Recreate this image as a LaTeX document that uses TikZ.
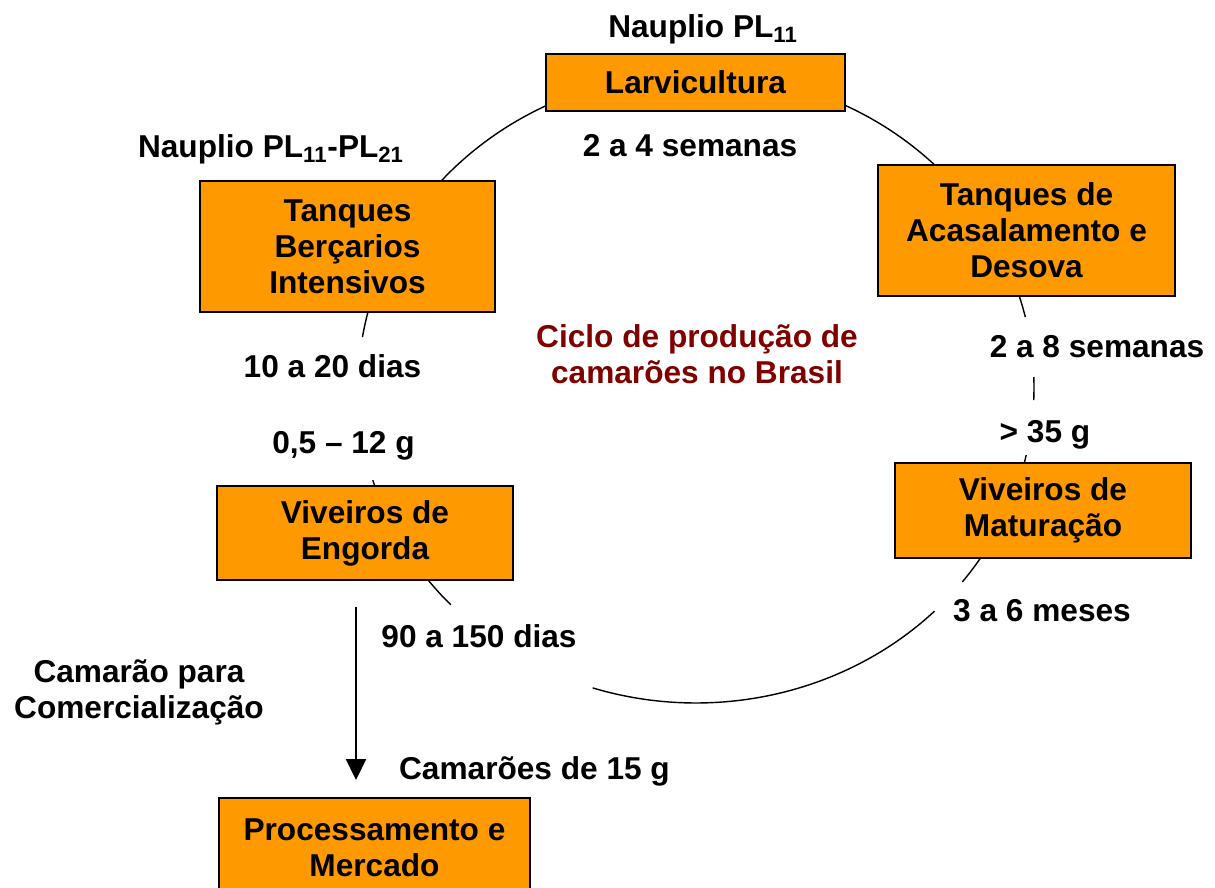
\documentclass[tikz,border=0pt]{standalone}
\usepackage{fontspec}
\setmainfont{Liberation Sans}
\usetikzlibrary{arrows.meta}
\definecolor{caixa}{RGB}{255,153,0}
\definecolor{titulo}{RGB}{128,0,0}

\begin{document}
\begin{tikzpicture}[x=0.02cm,y=-0.02cm,
		etapa/.style={draw=black,line width=1.1pt,fill=caixa,inner sep=0pt,align=center,font=\fontsize{18}{20.4}\selectfont\bfseries},
		rotulo/.style={inner sep=0pt,align=center,font=\fontsize{18}{20.4}\selectfont\bfseries}]
		\clip (0,0) rectangle (1215,888);
		% ciclo (partes visiveis da elipse)
		\foreach \a/\b in {-2/2.2, 12.3/38, 45.1/107.8, 136.5/163, 189.3/347}
			\draw[line width=0.8pt] (696,388) ++(\a:338 and 315) arc[start angle=\a, end angle=\b, x radius=338, y radius=315];
		% etapas
		\node[etapa,minimum width=5.98cm,minimum height=1.14cm] (larv) at (695.5,82.5) {Larvicultura};
		\node[etapa,minimum width=5.94cm,minimum height=2.62cm] (acas) at (1026.5,230.5) {Tanques de\\Acasalamento e\\Desova};
		\node[etapa,minimum width=5.90cm,minimum height=2.62cm] (berc) at (347.5,246.5) {Tanques\\Berçarios\\Intensivos};
		\node[etapa,minimum width=5.92cm,minimum height=1.90cm] (matu) at (1043,510.5) {Viveiros de\\Maturação};
		\node[etapa,minimum width=5.92cm,minimum height=1.88cm] (engo) at (365,533) {Viveiros de\\Engorda};
		\node[etapa,minimum width=6.22cm,minimum height=2.00cm] (proc) at (374.5,848) {Processamento e\\Mercado};
		% rotulos
		\node[rotulo,anchor=base] (naup) at (703,38) {Nauplio PL\textsubscript{11}};
		\node[rotulo,anchor=base] (sem24) at (690,157) {2 a 4 semanas};
		\node[rotulo,anchor=base] (naupb) at (271,158) {Nauplio PL\textsubscript{11}-PL\textsubscript{21}};
		\node[rotulo,anchor=base] (sem28) at (1097,358) {2 a 8 semanas};
		\node[rotulo,anchor=base] (peso35) at (1045,443) {> 35 g};
		\node[rotulo,anchor=base] (dias1020) at (332.5,378) {10 a 20 dias};
		\node[rotulo,anchor=base] (peso05) at (343.5,454) {0,5 – 12 g};
		\node[rotulo,anchor=base] (meses36) at (1042,622) {3 a 6 meses};
		\node[rotulo,anchor=base] (dias90) at (479,648) {90 a 150 dias};
		\node[rotulo,anchor=base] (cam15) at (534.5,780) {Camarões de 15 g};
		\node[rotulo] (comerc) at (139,692) {Camarão para\\Comercialização};
		\node[rotulo,text=titulo] (ciclo) at (697,354) {Ciclo de produção de\\camarões no Brasil};
		% saida para o mercado
		\coordinate (seta) at (356,0);
		\draw[line width=1.1pt,-{Triangle[length=0.42cm,width=0.4cm]},shorten <=0.52cm,shorten >=0.34cm] (engo.south -| seta) -- (proc.north -| seta);
	\end{tikzpicture}
\end{document}
